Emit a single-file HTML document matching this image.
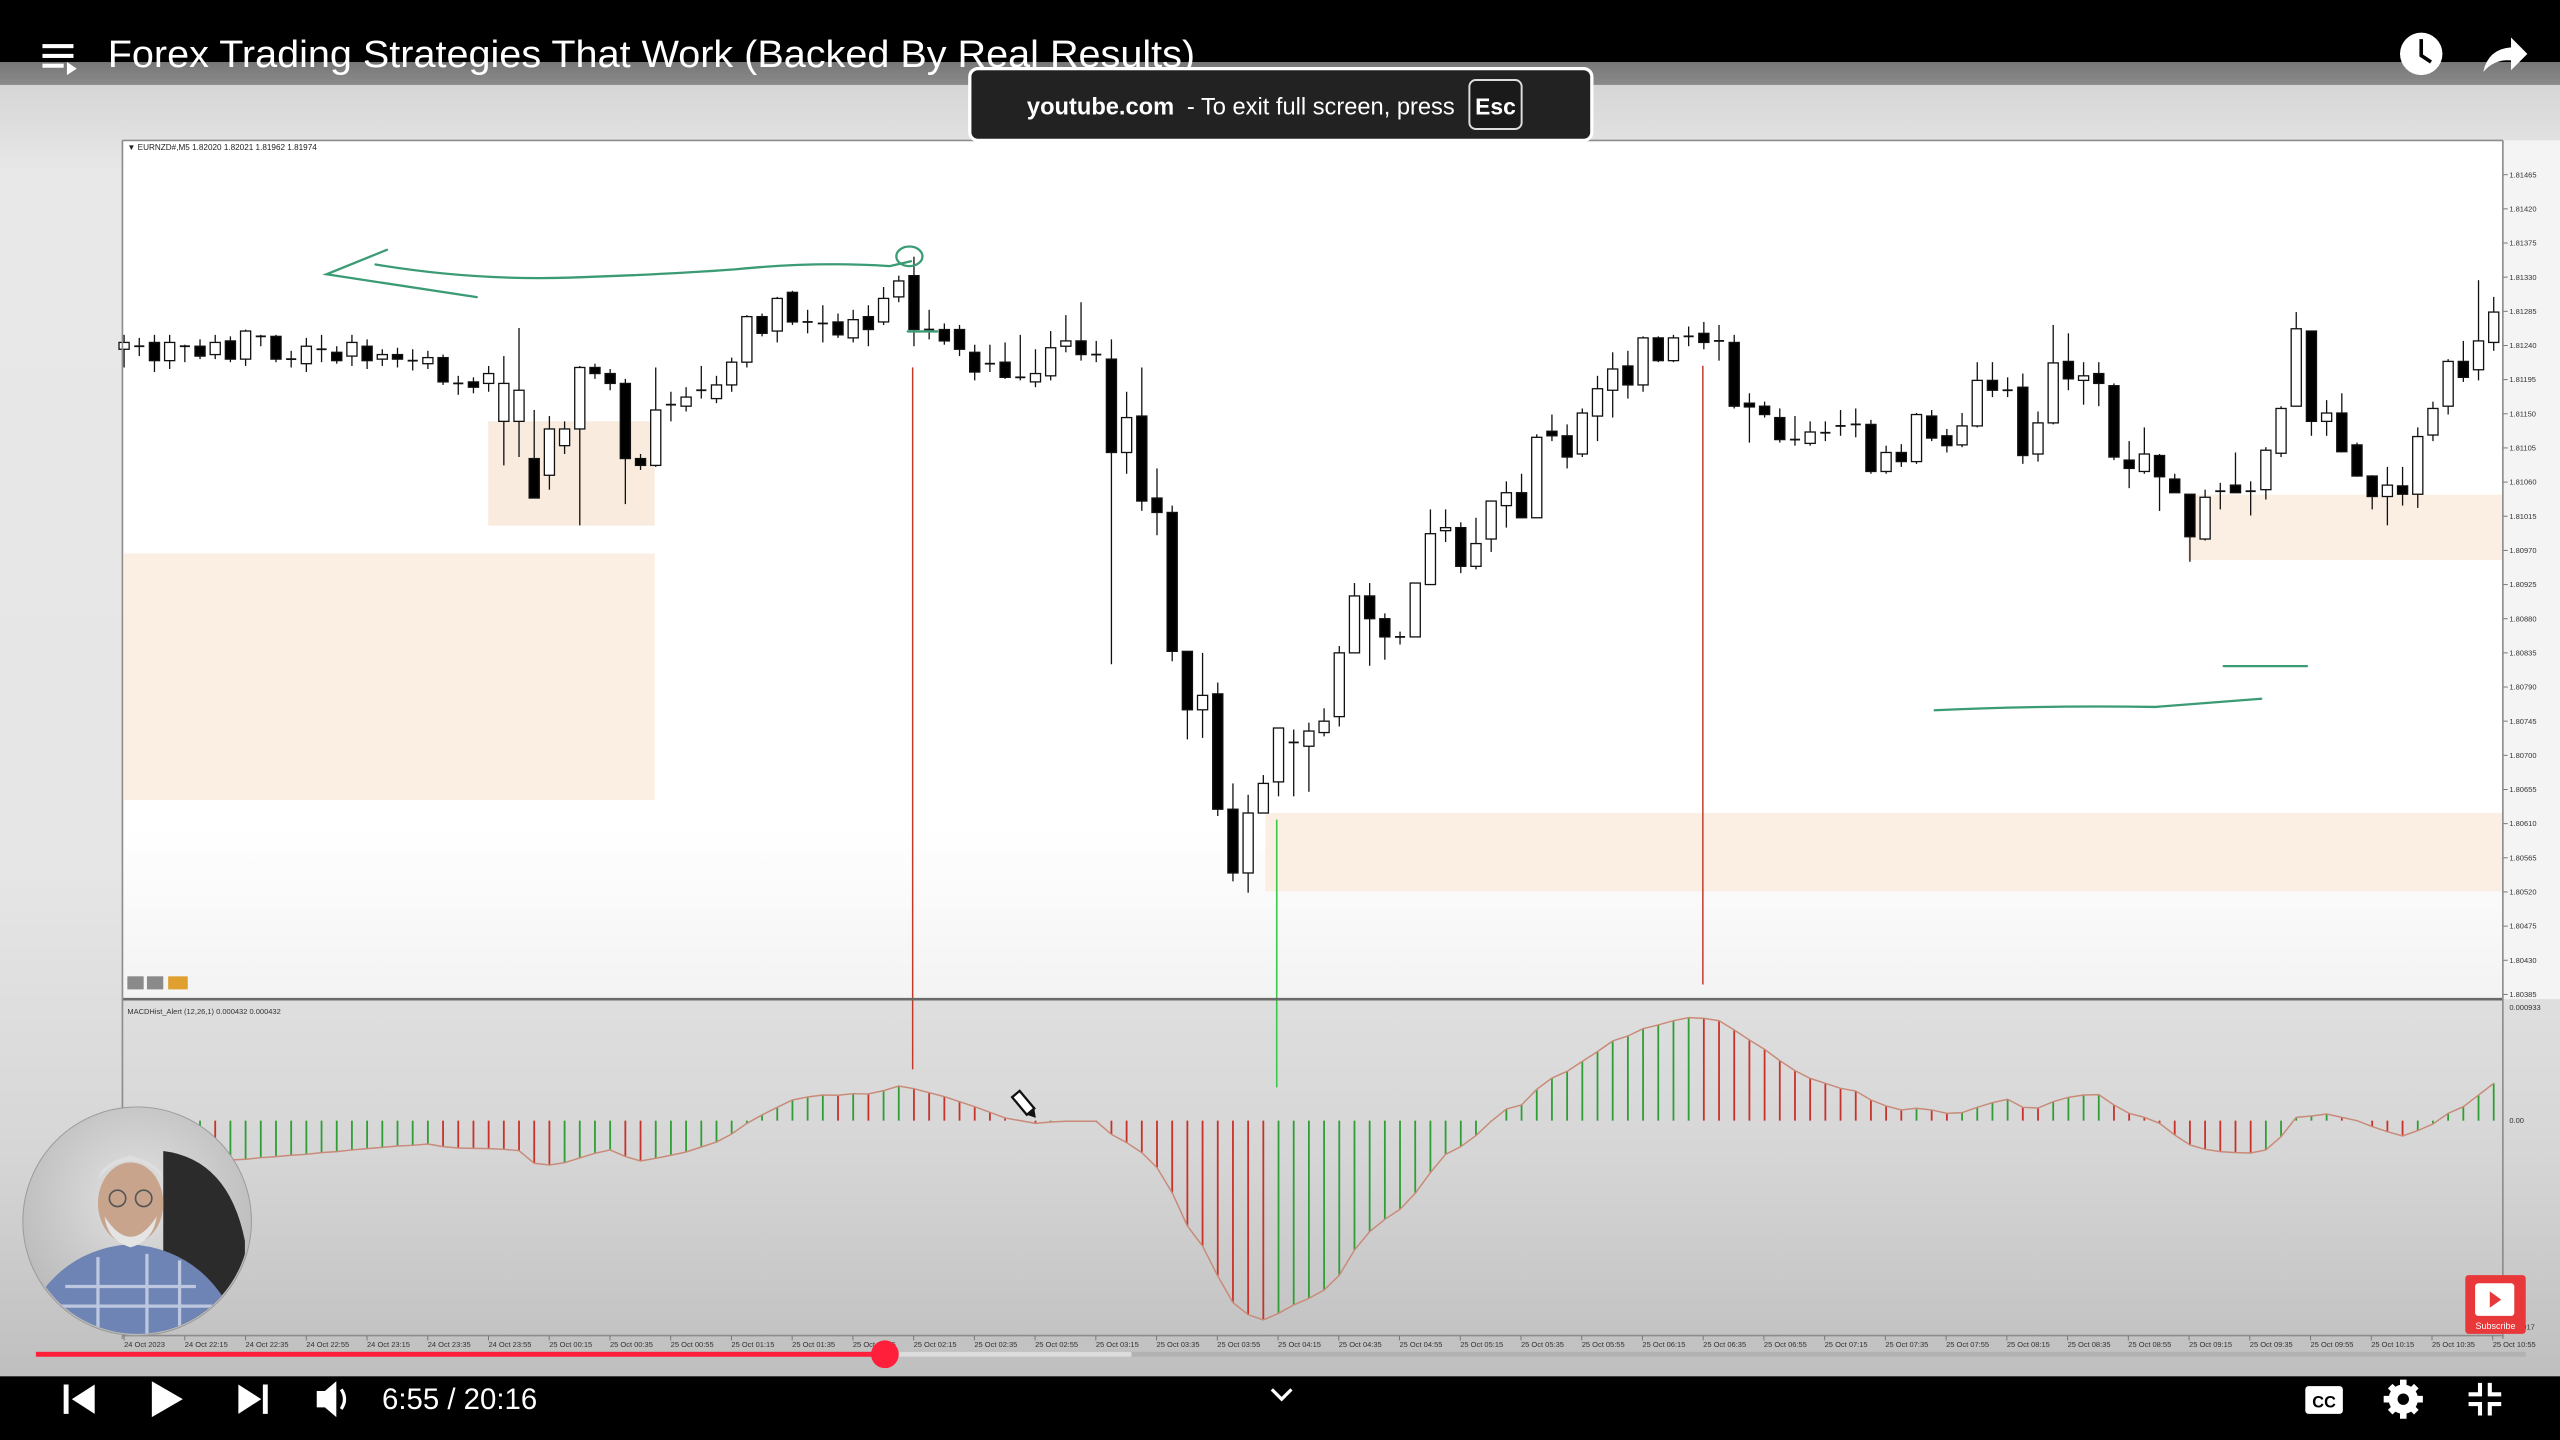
<!DOCTYPE html>
<html><head><meta charset="utf-8"><title>Forex Trading Strategies That Work</title>
<style>
html,body{margin:0;padding:0;background:#000;overflow:hidden;}
svg{display:block;font-family:"Liberation Sans",sans-serif;}
</style></head>
<body>
<svg id="root" xmlns="http://www.w3.org/2000/svg" width="2560" height="1440" viewBox="0 0 1568 882" preserveAspectRatio="none">
<defs>
<linearGradient id="frameGrad" x1="0" y1="0" x2="0" y2="1">
<stop offset="0" stop-color="#6e6e6e"/><stop offset="0.06" stop-color="#d6d6d6"/><stop offset="0.12" stop-color="#e8e8e8"/><stop offset="0.6" stop-color="#e6e6e6"/><stop offset="0.8" stop-color="#d6d6d6"/><stop offset="1" stop-color="#b8b8b8"/>
</linearGradient>
<linearGradient id="plotGrad" x1="0" y1="0" x2="0" y2="1">
<stop offset="0" stop-color="#ffffff"/><stop offset="0.8" stop-color="#ffffff"/><stop offset="1" stop-color="#f3f3f3"/>
</linearGradient>
<radialGradient id="camGrad" cx="0.5" cy="0.4" r="0.6"><stop offset="0" stop-color="#e2e2e2"/><stop offset="1" stop-color="#b9b9b9"/></radialGradient>
<clipPath id="camClip"><circle cx="84" cy="748" r="69"/></clipPath>
</defs>

<rect x="0" y="0" width="1568" height="882" fill="url(#frameGrad)"/>
<rect x="0" y="0" width="1568" height="38" fill="#000"/>
<rect x="0" y="38" width="1568" height="14" fill="#000" opacity="0.35"/>

<!-- chart plot area -->
<rect x="75" y="86" width="1458" height="526" fill="url(#plotGrad)"/>
<rect x="1533" y="86" width="35" height="526" fill="#f4f4f4"/>

<g id="zones">
<rect x="299" y="258" width="102" height="64" fill="#f8e9d9" opacity="0.85"/>
<rect x="76" y="339" width="325" height="151" fill="#fbeee2"/>
<rect x="775" y="498" width="758" height="48" fill="#fbefe4"/>
<rect x="1340" y="303" width="193" height="40" fill="#fbefe4"/>
</g>

<g id="vlines">
<line x1="559" y1="225" x2="559" y2="655" stroke="#c0392b" stroke-width="0.9"/>
<line x1="1043" y1="224" x2="1043" y2="603" stroke="#c0392b" stroke-width="0.9"/>
<line x1="782" y1="502" x2="782" y2="666" stroke="#3cc84a" stroke-width="1"/>
</g>

<g id="candles"></g>

<g id="drawings" fill="none" stroke="#3a9b74" stroke-width="1.4" stroke-linecap="round">
<path d="M237 153 L200 168 L292 182"/>
<path d="M230 162 Q290 172 350 170 T450 165 Q500 160 545 163 L558 160"/>
<ellipse cx="557" cy="157" rx="8" ry="6"/>
<path d="M556 203 L574 203"/>
<path d="M1185 435 Q1250 432 1320 433 Q1360 430 1385 428"/>
<path d="M1362 408 L1413 408"/>
</g>

<text x="78" y="92" font-size="5" fill="#222">▼ EURNZD#,M5  1.82020 1.82021 1.81962 1.81974</text>
<g>
<rect x="78" y="598" width="10" height="8" fill="#8a8a8a"/>
<rect x="90" y="598" width="10" height="8" fill="#8a8a8a"/>
<rect x="103" y="598" width="12" height="8" fill="#e0a030"/>
</g>
<g id="priceAxis"></g>

<!-- indicator panel -->
<line x1="75" y1="612" x2="1533" y2="612" stroke="#6a6a6a" stroke-width="1.6"/>
<text x="78" y="621" font-size="4.6" fill="#333">MACDHist_Alert (12,26,1) 0.000432 0.000432</text>
<g id="macd"></g>
<g id="macdAxis"></g>

<!-- frame lines -->
<line x1="75" y1="86" x2="1533" y2="86" stroke="#8c8c8c" stroke-width="1"/>
<line x1="75" y1="86" x2="75" y2="820" stroke="#8c8c8c" stroke-width="1"/>
<line x1="1533" y1="86" x2="1533" y2="820" stroke="#8c8c8c" stroke-width="1"/>
<line x1="75" y1="818" x2="1533" y2="818" stroke="#8c8c8c" stroke-width="1"/>
<g id="timeAxis"></g>

<!-- pencil cursor -->
<g transform="translate(628 677) rotate(-40)">
<rect x="-3" y="-9" width="6" height="14" fill="#fff" stroke="#111" stroke-width="1.4"/>
<path d="M-3 5 L0 10 L3 5 Z" fill="#111"/>
</g>

<!-- webcam -->
<g>
<circle cx="84" cy="748" r="70" fill="url(#camGrad)"/>
<g clip-path="url(#camClip)">
<path d="M100 705 Q140 710 150 760 L150 820 L100 820 Z" fill="#2b2b2b"/>
<path d="M20 800 Q40 765 80 762 Q120 765 140 800 L140 830 L20 830 Z" fill="#6d84b4"/>
<path d="M30 800 L130 800 M40 788 L120 788 M60 770 L60 830 M90 768 L90 830 M110 772 L110 830" stroke="#dfe6f2" stroke-width="2" fill="none" opacity="0.7"/>
<ellipse cx="80" cy="737" rx="20" ry="25" fill="#c8a48c"/>
<path d="M60 722 Q80 700 100 722 Q98 712 80 708 Q62 712 60 722 Z" fill="#dedede"/>
<path d="M64 745 Q80 770 96 745 Q94 760 80 764 Q66 760 64 745 Z" fill="#e4e4e4"/>
<circle cx="72" cy="734" r="5" fill="none" stroke="#555" stroke-width="1"/>
<circle cx="88" cy="734" r="5" fill="none" stroke="#555" stroke-width="1"/>
</g>
<circle cx="84" cy="748" r="70" fill="none" stroke="#9a9a9a" stroke-width="0.6"/>
</g>

<!-- subscribe -->
<g>
<rect x="1510" y="781" width="37" height="36" fill="#e8383a" rx="2"/>
<rect x="1516" y="786" width="24" height="20" fill="#fff" rx="2"/>
<path d="M1525 791 L1532 796 L1525 801 Z" fill="#e8383a"/>
<text x="1528.5" y="814" font-size="5.5" fill="#fff" text-anchor="middle">Subscribe</text>
</g>

<!-- title bar -->
<g fill="#fff">
<rect x="26" y="27" width="19" height="2.5"/><rect x="26" y="33" width="19" height="2.5"/><rect x="26" y="39" width="13" height="2.5"/>
<path d="M41 38 L47 42 L41 46 Z"/>
</g>
<text x="66" y="41" font-size="23" fill="#fff" textLength="666" lengthAdjust="spacingAndGlyphs">Forex Trading Strategies That Work (Backed By Real Results)</text>
<g>
<circle cx="1483" cy="33" r="13" fill="#fff"/>
<path d="M1483 24 L1483 34 L1489 38" stroke="#000" stroke-width="2.2" fill="none"/>
</g>
<path d="M1521 44 Q1524 30 1538 29 L1538 23 L1548 33 L1538 43 L1538 37 Q1528 36 1521 44 Z" fill="#fff"/>

<!-- fullscreen toast -->
<g>
<rect x="594" y="42" width="381" height="44" rx="5" fill="#222" stroke="#fff" stroke-width="2"/>
<text x="629" y="70" font-size="14.5" fill="#fff" font-weight="bold">youtube.com</text>
<text x="727" y="70" font-size="14.5" fill="#fff">-  To exit full screen, press</text>
<rect x="900" y="49" width="32" height="30" rx="4" fill="#1a1a1a" stroke="#ddd" stroke-width="1.2"/>
<text x="916" y="70" font-size="14" fill="#fff" font-weight="bold" text-anchor="middle">Esc</text>
</g>

<!-- progress bar -->
<g>
<rect x="22" y="828" width="1525" height="3" fill="#a8a8a8" opacity="0.6"/>
<rect x="542" y="828" width="151" height="3" fill="#dcdcdc"/>
<rect x="22" y="828" width="520" height="3" fill="#ff1f3a"/>
<circle cx="542" cy="829.5" r="8.5" fill="#ff1f3a"/>
</g>

<!-- bottom controls -->
<rect x="0" y="843" width="1568" height="39" fill="#000"/>
<g fill="#fff">
<g><rect x="39" y="848" width="3" height="18"/><path d="M58 848 L44 857 L58 866 Z"/></g>
<path d="M93 846 L112 857 L93 868 Z"/>
<g><path d="M146 848 L160 857 L146 866 Z"/><rect x="161" y="848" width="3" height="18"/></g>
<g><path d="M194 852 L199 852 L206 846 L206 868 L199 862 L194 862 Z"/><path d="M209 851 Q213 857 209 863" stroke="#fff" stroke-width="2" fill="none"/></g>
<text x="234" y="863" font-size="18">6:55 / 20:16</text>
<path d="M779 851 L785 857 L791 851" stroke="#fff" stroke-width="2" fill="none"/>
<g><rect x="1412" y="849" width="23" height="17" rx="2"/><text x="1423.5" y="862" font-size="10" fill="#000" text-anchor="middle" font-weight="bold">CC</text></g>
<g><circle cx="1472" cy="857" r="9"/><circle cx="1472" cy="857" r="3.5" fill="#000"/>
<g stroke="#fff" stroke-width="4"><line x1="1472" y1="845" x2="1472" y2="869"/><line x1="1460" y1="857" x2="1484" y2="857"/><line x1="1464" y1="849" x2="1480" y2="865"/><line x1="1480" y1="849" x2="1464" y2="865"/></g><circle cx="1472" cy="857" r="3.5" fill="#000"/></g>
<g stroke="#fff" stroke-width="2.5" fill="none">
<path d="M1519 847 L1519 854 L1512 854"/><path d="M1525 847 L1525 854 L1532 854"/><path d="M1512 860 L1519 860 L1519 867"/><path d="M1532 860 L1525 860 L1525 867"/></g>
</g>
</svg>

<script>
// ---- chart data (prices in points of 0.00001 above 1.80000) ----
const PRICE_BASE = 1.8;
const POINT = 0.00001;
const openPts = [1235,1239,1244,1220,1239,1239,1228,1246,1222,1252,1252,1222,1216,1235,1231,1226,1239,1222,1228,1220,1216,1224,1190,1192,1190,1140,1140,1091,1069,1108,1130,1211,1203,1190,1091,1082,1162,1160,1181,1170,1188,1218,1278,1259,1310,1271,1269,1271,1250,1278,1271,1304,1332,1261,1261,1261,1231,1216,1218,1198,1192,1200,1239,1246,1228,1222,1099,1147,1039,1020,837,760,781,629,545,624,665,717,712,730,751,835,910,880,856,856,925,996,1000,949,985,1029,1046,1013,1127,1121,1097,1147,1181,1213,1188,1250,1220,1252,1256,1246,1244,1164,1160,1145,1116,1111,1125,1134,1136,1136,1074,1099,1087,1147,1121,1109,1134,1194,1181,1185,1097,1138,1219,1194,1203,1187,1089,1074,1095,1064,1044,985,1048,1056,1048,1050,1098,1160,1259,1140,1151,1109,1068,1041,1055,1044,1122,1160,1219,1208,1244];
const highPts = [1254,1250,1254,1254,1241,1248,1254,1252,1261,1254,1254,1233,1250,1254,1239,1254,1248,1235,1237,1235,1233,1228,1200,1198,1213,1226,1263,1155,1147,1140,1213,1216,1209,1196,1097,1211,1179,1185,1213,1200,1224,1280,1282,1304,1312,1287,1293,1282,1287,1293,1317,1332,1357,1287,1269,1267,1241,1241,1244,1254,1235,1259,1280,1297,1246,1248,1179,1211,1078,1029,837,835,796,663,648,674,736,734,743,762,844,927,927,887,863,927,1024,1024,1007,1013,1035,1061,1071,1123,1149,1136,1157,1200,1231,1233,1252,1252,1254,1265,1271,1267,1254,1177,1166,1157,1147,1140,1140,1155,1157,1142,1108,1110,1151,1155,1130,1151,1218,1218,1198,1203,1153,1267,1256,1218,1218,1190,1114,1132,1097,1071,1044,1050,1059,1099,1061,1106,1160,1284,1259,1168,1177,1112,1069,1080,1080,1132,1166,1222,1246,1326,1304];
const lowPts = [1211,1226,1205,1209,1218,1222,1222,1218,1213,1239,1218,1211,1205,1218,1216,1213,1209,1213,1211,1207,1209,1188,1175,1177,1179,1082,1093,1039,1050,1097,1003,1196,1181,1031,1076,1080,1140,1153,1170,1164,1179,1211,1252,1244,1267,1256,1244,1250,1244,1239,1267,1297,1239,1248,1241,1226,1194,1205,1196,1194,1185,1194,1231,1220,1218,820,1071,1022,990,824,721,723,620,534,519,624,646,646,652,725,738,835,818,826,846,856,925,981,940,945,968,1000,1013,1013,1114,1078,1093,1114,1145,1170,1179,1218,1218,1239,1235,1220,1157,1112,1145,1112,1108,1108,1114,1121,1119,1071,1071,1080,1084,1114,1099,1106,1132,1172,1172,1084,1087,1136,1181,1162,1160,1089,1052,1071,1022,1046,955,983,1024,1046,1016,1037,1093,1160,1121,1121,1099,1067,1024,1003,1029,1026,1114,1149,1192,1194,1233];
const closePts = [1244,1239,1220,1244,1239,1226,1244,1222,1259,1252,1222,1222,1239,1235,1220,1244,1220,1228,1222,1220,1224,1192,1190,1185,1203,1190,1181,1039,1130,1130,1211,1203,1190,1091,1082,1155,1162,1172,1181,1188,1218,1278,1256,1302,1271,1271,1269,1254,1274,1261,1302,1325,1261,1261,1246,1235,1205,1216,1198,1198,1203,1237,1246,1228,1228,1099,1145,1035,1020,837,760,779,629,545,624,663,736,717,732,745,835,910,880,856,856,927,992,1000,949,979,1035,1046,1013,1119,1121,1093,1151,1183,1209,1188,1250,1220,1250,1252,1244,1246,1160,1159,1149,1116,1116,1126,1125,1134,1136,1074,1099,1087,1149,1118,1108,1134,1194,1181,1181,1095,1138,1217,1196,1200,1190,1093,1078,1097,1067,1046,988,1040,1048,1046,1048,1102,1157,1262,1140,1151,1100,1068,1041,1056,1044,1120,1157,1219,1198,1246,1284];
// MACD histogram values in units of 0.00001 (null = not yet computed)
const macdHist = [null,null,null,null,null,-31.8,-34.3,-32.4,-31.8,-30.5,-29.6,-28.5,-27.7,-26.3,-25.5,-24.1,-23.0,-22.0,-20.9,-20.3,-19.2,-21.4,-22.5,-22.8,-23.0,-23.6,-24.7,-35.1,-36.5,-34.6,-30.7,-26.9,-24.1,-29.6,-33.2,-31.0,-28.5,-25.8,-21.7,-17.6,-11.0,-2.2,4.7,11.0,17.0,19.5,21.1,20.9,22.2,22.0,24.7,28.5,26.3,23.0,19.8,15.6,11.5,6.9,2.2,0,-2.2,-1.1,-0.5,-0.5,-0.5,-11.3,-18.1,-26.3,-38.7,-59.3,-86.7,-103.2,-127.9,-149.8,-159.7,-164.1,-158.6,-151.7,-146.3,-139.4,-127.3,-106.5,-91.4,-81.2,-73.0,-59.8,-42.8,-27.7,-21.4,-12.3,-0.5,9.6,12.9,25.8,35.1,40.6,48.8,56.8,65.6,69.7,75.7,78.8,82.3,84.8,84.2,82.3,74.6,66.4,58.7,49.4,41.2,34.8,30.7,26.6,24.4,17.0,12.1,8.8,10.2,8.8,6.0,6.6,11.0,14.8,17.6,11.0,10.4,15.6,19.2,21.1,21.4,12.9,6.0,2.7,-2.2,-11.8,-20.0,-23.6,-25.5,-26.3,-26.6,-24.1,-13.2,2.7,3.8,5.5,2.7,0,-4.9,-9.1,-12.6,-8.2,-2.7,6.0,11.5,21.1,30.7];
const priceTickLabels = ["1.81465","1.81420","1.81375","1.81330","1.81285","1.81240","1.81195","1.81150","1.81105","1.81060","1.81015","1.80970","1.80925","1.80880","1.80835","1.80790","1.80745","1.80700","1.80655","1.80610","1.80565","1.80520","1.80475","1.80430","1.80385"];
const macdTickLabels = ["0.000933","0.00","-0.0017"];
const macdTickValues = [93.3,0,-170];
const timeStartLabel = "24 Oct 2023";
const timeFirstMinutes = 22*60+15;
const timeStepMinutes = 20;
const timeLabelCount = 40;

// ---- axis functions ----
const NS = "http://www.w3.org/2000/svg";
const X0 = 76, STEP = (1527.4 - 76) / (openPts.length - 1);
function xOf(i){ return X0 + i*STEP; }
const P_TOP = 1.81465, Y_TOP = 107, PX_PER_PRICE = 20.92/0.00045;
function priceOf(pts){ return PRICE_BASE + pts*POINT; }
function yOf(p){ return Y_TOP + (P_TOP - p)*PX_PER_PRICE; }
const MACD_ZERO_Y = 686.4, MACD_PX_PER_UNIT = 0.744;
function yMacd(v){ return MACD_ZERO_Y - v*MACD_PX_PER_UNIT; }
function mk(tag, attrs){ const e=document.createElementNS(NS,tag); for(const k in attrs) e.setAttribute(k,attrs[k]); return e; }

// ---- candles ----
const cg = document.getElementById('candles');
const BW = 6.2;
for (let i=0;i<openPts.length;i++){
  const o=priceOf(openPts[i]), h=priceOf(highPts[i]), l=priceOf(lowPts[i]), c=priceOf(closePts[i]);
  const x=xOf(i);
  const g=mk('g',{});
  
  
  const wick=mk('line',{x1:x,x2:x,y1:yOf(h),y2:yOf(l),stroke:'#111','stroke-width':0.8});
  
  
  g.appendChild(wick);
  const top=Math.min(yOf(o),yOf(c)), bot=Math.max(yOf(o),yOf(c));
  const hgt=bot-top;
  let body;
  if (hgt<1.2){
    body=mk('line',{x1:x-BW/2,x2:x+BW/2,y1:top,y2:top,stroke:'#111','stroke-width':1.1});
  } else {
    const bear = c<o;
    body=mk('rect',{x:x-BW/2,y:top,width:BW,height:hgt,fill:bear?'#000':'#fff',stroke:'#111','stroke-width':0.8});
  }
  
  
  g.appendChild(body);
  cg.appendChild(g);
}

// ---- price axis ----
const pa=document.getElementById('priceAxis');
for (let k=0;k<priceTickLabels.length;k++){
  const p=parseFloat(priceTickLabels[k]);
  const y=yOf(p);
  const t=mk('line',{x1:1533,x2:1536,y1:y,y2:y,stroke:'#777','stroke-width':0.6});
  
  
  pa.appendChild(t);
  const tx=mk('text',{x:1537,y:y+1.6,'font-size':4.6,fill:'#333'});
  tx.textContent=priceTickLabels[k];
  
  
  pa.appendChild(tx);
}

// ---- MACD histogram ----
const mg=document.getElementById('macd');
const linePts=[];
let prev=null;
for (let i=0;i<macdHist.length;i++){
  const v=macdHist[i];
  if (v===null) continue;
  const x=xOf(i);
  const rising = prev===null ? true : v>=prev;
  const bar=mk('line',{x1:x,x2:x,y1:MACD_ZERO_Y,y2:yMacd(v),stroke:rising?'#2f9e36':'#c8322a','stroke-width':1.1});
  
  
  mg.appendChild(bar);
  linePts.push(x.toFixed(2)+','+yMacd(v).toFixed(2));
  prev=v;
}
const ml=mk('polyline',{points:linePts.join(' '),fill:'none',stroke:'#c98a78','stroke-width':0.9});


mg.appendChild(ml);

const ma=document.getElementById('macdAxis');
for (let k=0;k<macdTickLabels.length;k++){
  const y=yMacd(macdTickValues[k]);
  const tx=mk('text',{x:1537,y:y+1.6,'font-size':4.6,fill:'#333'});
  tx.textContent=macdTickLabels[k];
  
  
  ma.appendChild(tx);
}

// ---- time axis ----
const ta=document.getElementById('timeAxis');
for (let k=0;k<timeLabelCount;k++){
  let label;
  if (k===0) label=timeStartLabel;
  else {
    const m=timeFirstMinutes+(k-1)*timeStepMinutes;
    const day=24+Math.floor(m/1440), mm=m%1440;
    label=day+' Oct '+String(Math.floor(mm/60)).padStart(2,'0')+':'+String(mm%60).padStart(2,'0');
  }
  const x=76+k*37.2;
  const tk=mk('line',{x1:x,x2:x,y1:818,y2:821,stroke:'#777','stroke-width':0.6});
  
  
  ta.appendChild(tk);
  const tx=mk('text',{x:x,y:825,'font-size':4.6,fill:'#333'});
  tx.textContent=label;
  
  
  ta.appendChild(tx);
}
</script>
</body></html>
